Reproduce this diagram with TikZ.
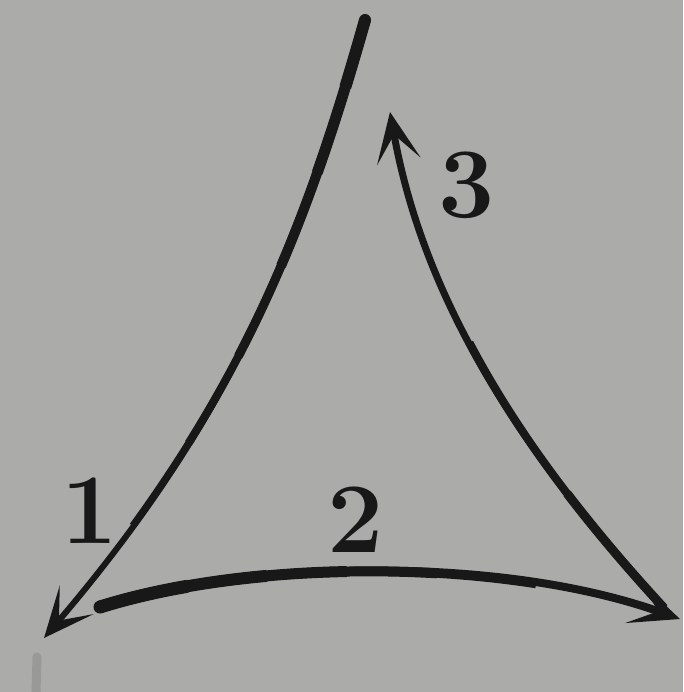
\documentclass[tikz,border=0pt]{standalone}
\usetikzlibrary{arrows.meta}
\definecolor{paper}{RGB}{171,171,169}
\definecolor{ink}{RGB}{24,24,24}
\tikzset{
  curve/.style={draw=ink, line cap=round},
  part/.style 2 args={draw=ink, line cap=butt, line width=#1, dash pattern=on #2 off 5000pt},
  tip/.style={-{Stealth[length=50pt,width=44pt,inset=27pt]}},
  lbl/.style={text=ink, font=\fontsize{100}{100}\selectfont\bfseries, inner sep=0pt}
}
\begin{document}
\begin{tikzpicture}[x=1pt,y=-1pt]
\fill[paper] (0,0) rectangle (683,692);
\useasboundingbox (0,0) rectangle (683,692);
% coordinates
\coordinate (c1s) at (365,20);
\coordinate (c1e) at (44,638);
\coordinate (c2s) at (100,607);
\coordinate (c2e) at (680,619);
\coordinate (c3s) at (664,608);
\coordinate (c3e) at (390,112);
% curve 1, tapering from top to bottom
\def\pone{(c1s) .. controls (300,250) and (230,420) .. (c1e)}
\draw[curve, line width=6pt, tip] \pone;
\draw[part={7pt}{560pt}] \pone;
\draw[part={8pt}{460pt}] \pone;
\draw[part={9pt}{360pt}] \pone;
\draw[part={10pt}{260pt}] \pone;
\draw[part={11pt}{160pt}] \pone;
\draw[part={12pt}{70pt}] \pone;
\fill[ink] (c1s) circle (6pt);
% curve 2, tapering from left to right
\def\ptwo{(c2s) .. controls (250,560) and (500,555) .. (c2e)}
\draw[curve, line width=8pt, tip] \ptwo;
\draw[part={9pt}{440pt}] \ptwo;
\draw[part={10pt}{340pt}] \ptwo;
\draw[part={11pt}{250pt}] \ptwo;
\draw[part={12pt}{170pt}] \ptwo;
\draw[part={13pt}{90pt}] \ptwo;
\fill[ink] (c2s) circle (6.5pt);
% curve 3
\def\pthree{(c3s) .. controls (500,430) and (420,280) .. (c3e)}
\draw[curve, line width=7pt, tip] \pthree;
\draw[part={8pt}{330pt}] \pthree;
\draw[part={9pt}{150pt}] \pthree;
% labels
\node[lbl] (l1) at (90,511) {1};
\node[lbl] (l2) at (356,520) {2};
\node[lbl] (l3) at (467,185) {3};
% faint scan mark
\draw[draw=gray!70!paper, line width=9pt, line cap=round, opacity=0.6] (37,657) -- (36,692);
\end{tikzpicture}
\end{document}
